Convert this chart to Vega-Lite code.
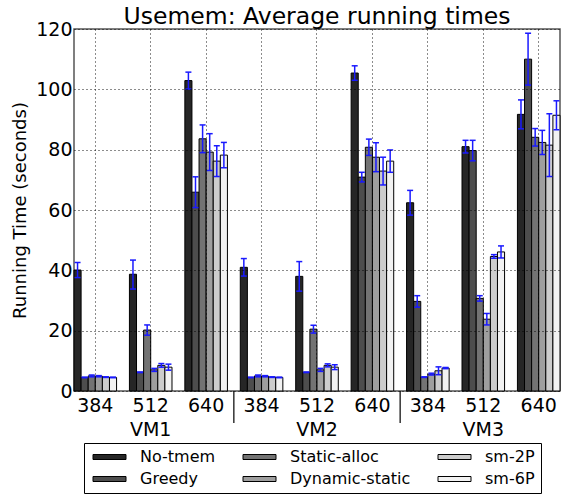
{
  "$schema": "https://vega.github.io/schema/vega-lite/v6.json",
  "width": 486,
  "height": 362,
  "autosize": {"type": "none"},
  "padding": {"left": 74, "top": 29, "right": 1, "bottom": 105},
  "config": {
    "font": "DejaVu Sans",
    "view": {"stroke": "#555555", "strokeWidth": 1.5}
  },
  "title": {"text": "Usemem: Average running times", "fontSize": 23.5, "fontWeight": "normal", "color": "black", "anchor": "middle", "frame": "group", "baseline": "alphabetic", "offset": -2, "dy": 25},
  "data": {"values": [
    {"g": "VM1 384", "s": "No-tmem", "v": 40.1, "lo": 37.6, "hi": 42.6},
    {"g": "VM1 384", "s": "Greedy", "v": 4.5, "lo": 4.4, "hi": 4.6},
    {"g": "VM1 384", "s": "Static-alloc", "v": 5.0, "lo": 4.7, "hi": 5.3},
    {"g": "VM1 384", "s": "Dynamic-static", "v": 4.9, "lo": 4.7, "hi": 5.1},
    {"g": "VM1 384", "s": "sm-2P", "v": 4.6, "lo": 4.5, "hi": 4.7},
    {"g": "VM1 384", "s": "sm-6P", "v": 4.5, "lo": 4.4, "hi": 4.6},
    {"g": "VM1 512", "s": "No-tmem", "v": 38.7, "lo": 33.8, "hi": 43.4},
    {"g": "VM1 512", "s": "Greedy", "v": 6.2, "lo": 6.1, "hi": 6.3},
    {"g": "VM1 512", "s": "Static-alloc", "v": 20.2, "lo": 18.5, "hi": 21.9},
    {"g": "VM1 512", "s": "Dynamic-static", "v": 7.0, "lo": 6.5, "hi": 7.5},
    {"g": "VM1 512", "s": "sm-2P", "v": 8.5, "lo": 7.9, "hi": 9.1},
    {"g": "VM1 512", "s": "sm-6P", "v": 7.9, "lo": 6.9, "hi": 8.9},
    {"g": "VM1 640", "s": "No-tmem", "v": 102.9, "lo": 100.1, "hi": 105.7},
    {"g": "VM1 640", "s": "Greedy", "v": 65.9, "lo": 60.8, "hi": 71.0},
    {"g": "VM1 640", "s": "Static-alloc", "v": 83.6, "lo": 79.0, "hi": 88.2},
    {"g": "VM1 640", "s": "Dynamic-static", "v": 79.2, "lo": 73.1, "hi": 85.3},
    {"g": "VM1 640", "s": "sm-2P", "v": 76.2, "lo": 71.1, "hi": 81.3},
    {"g": "VM1 640", "s": "sm-6P", "v": 78.2, "lo": 74.0, "hi": 82.4},
    {"g": "VM2 384", "s": "No-tmem", "v": 41.0, "lo": 38.1, "hi": 43.9},
    {"g": "VM2 384", "s": "Greedy", "v": 4.5, "lo": 4.4, "hi": 4.6},
    {"g": "VM2 384", "s": "Static-alloc", "v": 5.0, "lo": 4.7, "hi": 5.3},
    {"g": "VM2 384", "s": "Dynamic-static", "v": 4.9, "lo": 4.7, "hi": 5.1},
    {"g": "VM2 384", "s": "sm-2P", "v": 4.6, "lo": 4.5, "hi": 4.7},
    {"g": "VM2 384", "s": "sm-6P", "v": 4.5, "lo": 4.4, "hi": 4.6},
    {"g": "VM2 512", "s": "No-tmem", "v": 38.0, "lo": 33.1, "hi": 42.9},
    {"g": "VM2 512", "s": "Greedy", "v": 6.2, "lo": 6.1, "hi": 6.3},
    {"g": "VM2 512", "s": "Static-alloc", "v": 20.5, "lo": 19.2, "hi": 21.8},
    {"g": "VM2 512", "s": "Dynamic-static", "v": 7.0, "lo": 6.5, "hi": 7.5},
    {"g": "VM2 512", "s": "sm-2P", "v": 8.5, "lo": 8.0, "hi": 9.0},
    {"g": "VM2 512", "s": "sm-6P", "v": 7.9, "lo": 7.1, "hi": 8.7},
    {"g": "VM2 640", "s": "No-tmem", "v": 105.4, "lo": 103.0, "hi": 107.8},
    {"g": "VM2 640", "s": "Greedy", "v": 70.9, "lo": 69.3, "hi": 72.5},
    {"g": "VM2 640", "s": "Static-alloc", "v": 80.8, "lo": 78.1, "hi": 83.5},
    {"g": "VM2 640", "s": "Dynamic-static", "v": 77.5, "lo": 72.7, "hi": 82.3},
    {"g": "VM2 640", "s": "sm-2P", "v": 72.9, "lo": 68.3, "hi": 77.5},
    {"g": "VM2 640", "s": "sm-6P", "v": 76.2, "lo": 72.5, "hi": 79.9},
    {"g": "VM3 384", "s": "No-tmem", "v": 62.4, "lo": 58.3, "hi": 66.5},
    {"g": "VM3 384", "s": "Greedy", "v": 29.7, "lo": 27.8, "hi": 31.6},
    {"g": "VM3 384", "s": "Static-alloc", "v": 4.6, "lo": 4.5, "hi": 4.7},
    {"g": "VM3 384", "s": "Dynamic-static", "v": 5.6, "lo": 5.3, "hi": 5.9},
    {"g": "VM3 384", "s": "sm-2P", "v": 6.7, "lo": 5.4, "hi": 8.0},
    {"g": "VM3 384", "s": "sm-6P", "v": 7.6, "lo": 7.4, "hi": 7.8},
    {"g": "VM3 512", "s": "No-tmem", "v": 81.0, "lo": 78.9, "hi": 83.1},
    {"g": "VM3 512", "s": "Greedy", "v": 79.7, "lo": 76.3, "hi": 83.1},
    {"g": "VM3 512", "s": "Static-alloc", "v": 30.7, "lo": 29.8, "hi": 31.6},
    {"g": "VM3 512", "s": "Dynamic-static", "v": 23.8, "lo": 21.9, "hi": 25.7},
    {"g": "VM3 512", "s": "sm-2P", "v": 44.6, "lo": 44.0, "hi": 45.2},
    {"g": "VM3 512", "s": "sm-6P", "v": 46.1, "lo": 44.1, "hi": 48.1},
    {"g": "VM3 640", "s": "No-tmem", "v": 91.7, "lo": 86.9, "hi": 96.5},
    {"g": "VM3 640", "s": "Greedy", "v": 110.0, "lo": 101.4, "hi": 118.6},
    {"g": "VM3 640", "s": "Static-alloc", "v": 84.1, "lo": 81.2, "hi": 87.0},
    {"g": "VM3 640", "s": "Dynamic-static", "v": 82.4, "lo": 78.4, "hi": 86.4},
    {"g": "VM3 640", "s": "sm-2P", "v": 81.5, "lo": 71.1, "hi": 91.9},
    {"g": "VM3 640", "s": "sm-6P", "v": 91.4, "lo": 86.6, "hi": 96.2}
  ]},
  "encoding": {
    "x": {
      "field": "g", "type": "nominal",
      "scale": {"domain": ["VM1 384","VM1 512","VM1 640","VM2 384","VM2 512","VM2 640","VM3 384","VM3 512","VM3 640"], "paddingInner": 0.232, "paddingOuter": 0},
      "axis": {
        "title": null, "labelAngle": 0, "ticks": false, "domain": false,
        "labelFontSize": 19, "labelColor": "black", "labelPadding": 5, "labelBaseline": "top", "labelLineHeight": 24,
        "labelExpr": "[slice(datum.value, 4), indexof(datum.value, '512') >= 0 ? slice(datum.value, 0, 3) : '']",
        "grid": true, "gridColor": "black", "gridDash": [1, 3], "gridWidth": 1, "gridOpacity": 0.9, "zindex": 1
      }
    },
    "y": {
      "type": "quantitative",
      "scale": {"domain": [0, 120], "nice": false, "zero": true},
      "axis": {
        "title": "Running Time (seconds)", "titleFontSize": 18, "titleFontWeight": "normal", "titleColor": "black", "titlePadding": 6,
        "values": [0, 20, 40, 60, 80, 100, 120],
        "labelFontSize": 19, "labelColor": "black", "labelPadding": 2, "ticks": false, "domain": false,
        "grid": true, "gridColor": "black", "gridDash": [1, 3], "gridWidth": 1, "gridOpacity": 0.9, "zindex": 1
      }
    }
  },
  "layer": [
    {
      "mark": {"type": "bar", "stroke": "black", "strokeWidth": 1},
      "encoding": {
        "y": {"field": "v", "type": "quantitative"},
        "xOffset": {"field": "s", "type": "nominal", "scale": {"domain": ["No-tmem","Greedy","Static-alloc","Dynamic-static","sm-2P","sm-6P"], "paddingInner": 0, "paddingOuter": 0}},
        "color": {
          "field": "s", "type": "nominal",
          "scale": {"domain": ["No-tmem","Greedy","Static-alloc","Dynamic-static","sm-2P","sm-6P"], "range": ["#262626","#4d4d4d","#737373","#9e9e9e","#cccccc","#f2f2f2"]},
          "legend": {
            "title": null, "orient": "none", "legendX": 10, "legendY": 414, "columns": 3, "columnPadding": 24, "rowPadding": 6,
            "strokeColor": "black", "padding": 6, "fillColor": "white",
            "symbolType": "M-1,-0.5H5.6V0.5H-1Z", "symbolSize": 100, "symbolStrokeColor": "black", "symbolStrokeWidth": 1, "symbolOpacity": 1,
            "labelFontSize": 16, "labelColor": "black", "labelOffset": 34
          }
        }
      }
    },
    {
      "mark": {"type": "rule", "color": "#1a1aff", "strokeWidth": 1.5},
      "encoding": {
        "xOffset": {"field": "s", "type": "nominal"},
        "y": {"field": "lo", "type": "quantitative"},
        "y2": {"field": "hi"}
      }
    },
    {
      "mark": {"type": "tick", "color": "#1a1aff", "size": 6, "thickness": 1.5, "opacity": 1},
      "encoding": {
        "xOffset": {"field": "s", "type": "nominal"},
        "y": {"field": "lo", "type": "quantitative"}
      }
    },
    {
      "mark": {"type": "tick", "color": "#1a1aff", "size": 6, "thickness": 1.5, "opacity": 1},
      "encoding": {
        "xOffset": {"field": "s", "type": "nominal"},
        "y": {"field": "hi", "type": "quantitative"}
      }
    },
    {
      "data": {"values": [{"g": "VM1 640"}, {"g": "VM2 640"}]},
      "mark": {"type": "rule", "color": "black", "strokeWidth": 1.2},
      "encoding": {
        "x": {"field": "g", "type": "nominal", "bandPosition": 1.151},
        "y": {"datum": 0},
        "y2": {"datum": -10.6}
      }
    }
  ]
}
